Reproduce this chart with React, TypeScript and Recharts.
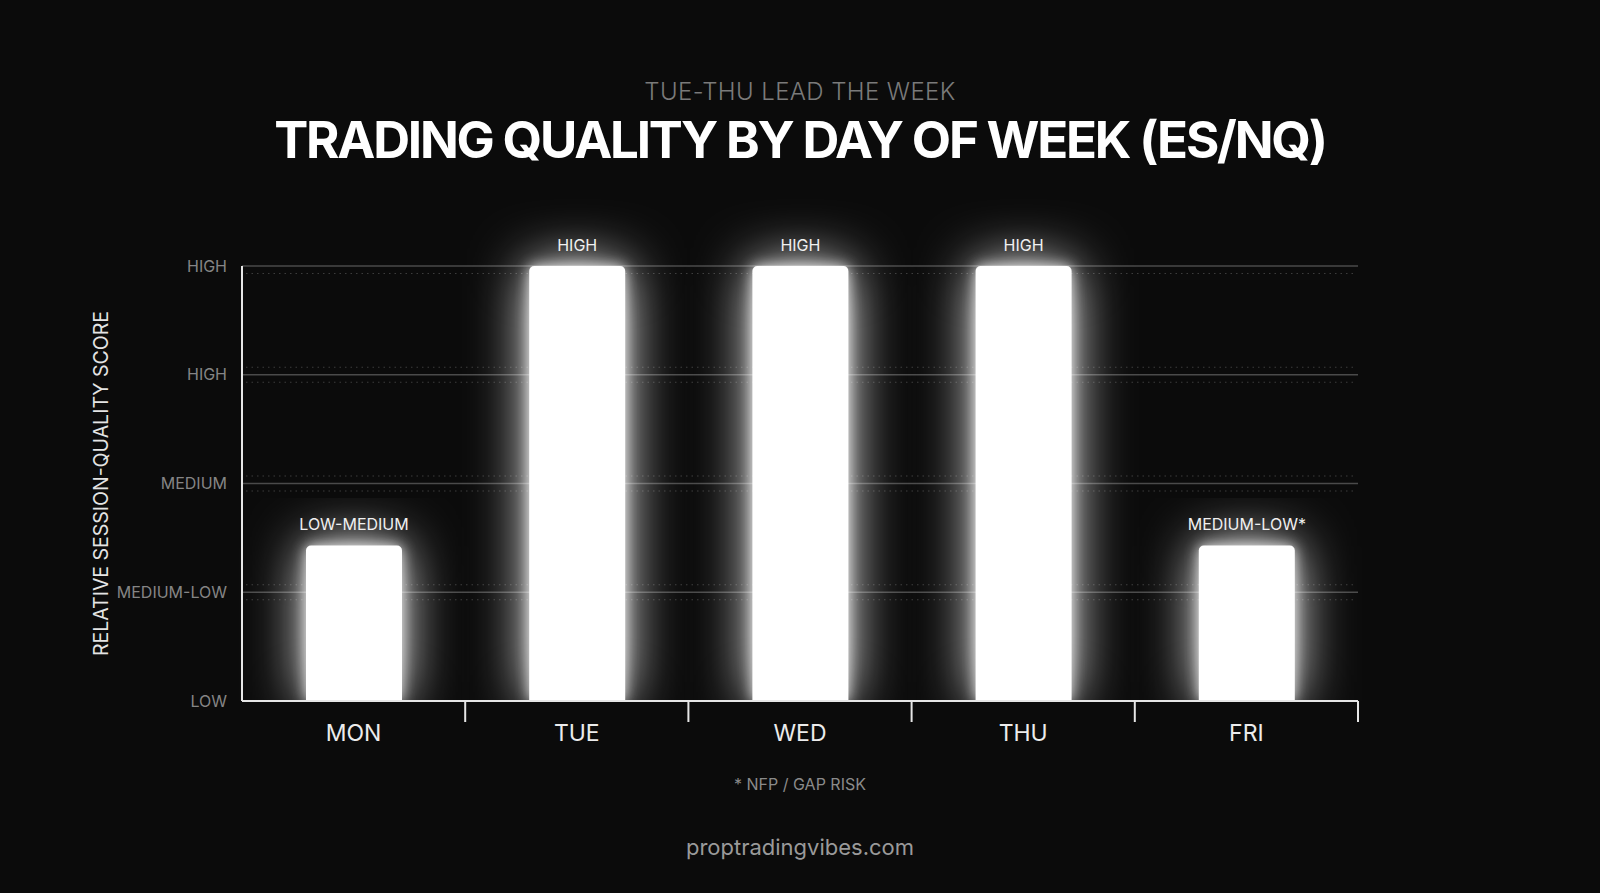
import React from "react";
import { BarChart, Bar, XAxis, YAxis, CartesianGrid, LabelList, Rectangle } from "recharts";

const DAYS = ["MON", "TUE", "WED", "THU", "FRI"];
const SCORES = [1.43, 4, 4, 4, 1.43];
const BAR_LABELS = ["LOW-MEDIUM", "HIGH", "HIGH", "HIGH", "MEDIUM-LOW*"];
const Y_TICKS = [0, 1, 2, 3, 4];
const Y_TICK_LABELS = ["LOW", "MEDIUM-LOW", "MEDIUM", "HIGH", "HIGH"];

const TITLE = "TRADING QUALITY BY DAY OF WEEK (ES/NQ)";
const SUBTITLE = "TUE-THU LEAD THE WEEK";
const Y_LABEL = "RELATIVE SESSION-QUALITY SCORE";
const FOOTNOTE = "* NFP / GAP RISK";
const SITE = "proptradingvibes.com";

const FONT = "Inter, 'Noto Sans', sans-serif";
const BG = "#0b0b0b";
const PLOT_TOP = 266;
const PLOT_BOTTOM = 701;

const data = DAYS.map((d, i) => ({ day: d, score: SCORES[i], label: BAR_LABELS[i] }));

function GridLine(props: any) {
  const { x1, x2, y1 } = props;
  const y = y1;
  const dotted = { stroke: "#3c3c3c", strokeWidth: 1, strokeDasharray: "1.5 4" };
  return (
    <g>
      <line x1={x1} x2={x2} y1={y} y2={y} stroke="#4a4a4a" strokeWidth={1.5} />
      {y > PLOT_TOP + 1 && y < PLOT_BOTTOM - 1 && <line x1={x1 + 4} x2={x2 - 4} y1={y - 7.5} y2={y - 7.5} {...dotted} />}
      {y < PLOT_BOTTOM - 1 && <line x1={x1 + 4} x2={x2 - 4} y1={y + 7.5} y2={y + 7.5} {...dotted} />}
    </g>
  );
}

function GlowBar(props: any) {
  const { x, y, width, height, index } = props;
  const id = `clip-bar-${index}`;
  return (
    <g>
      <defs>
        <clipPath id={id}>
          <rect x={x - 150} y={y - 150} width={width + 300} height={height + 150} />
        </clipPath>
      </defs>
      <g clipPath={`url(#${id})`}>
        <g filter="url(#glow)">
          <Rectangle x={x} y={y} width={width} height={height} radius={[5, 5, 0, 0]} fill="#ffffff" />
        </g>
      </g>
    </g>
  );
}

function DayTick(props: any) {
  const { x, y, payload } = props;
  const half = payload && payload.offset ? payload.offset : 111.6;
  return (
    <g>
      <line x1={x + half} x2={x + half} y1={y} y2={y + 21} stroke="#e6e6e6" strokeWidth={2} />
      <text x={x} y={y + 32} textAnchor="middle" dominantBaseline="central" fill="#ececec" fontSize={23} fontFamily={FONT}>
        {payload.value}
      </text>
    </g>
  );
}

export default function App() {
  return (
    <div style={{ position: "fixed", left: 0, top: 0, width: 1600, height: 893, background: BG, overflow: "hidden", fontFamily: FONT }}>
      <div style={{ position: "absolute", top: 78, width: 1600, textAlign: "center", color: "#7a7a7a", fontSize: 24, fontWeight: 300, lineHeight: "28px", letterSpacing: 0.4 }}>
        {SUBTITLE}
      </div>
      <div style={{ position: "absolute", top: 108, width: 1600, textAlign: "center", color: "#ffffff", fontSize: 51, fontWeight: 700, lineHeight: "64px", letterSpacing: -2.2 }}>
        {TITLE}
      </div>
      <BarChart width={1600} height={893} data={data} margin={{ top: PLOT_TOP, right: 242, bottom: 132, left: 0 }} barSize={96}>
        <defs>
          <filter id="glow" x="-100%" y="-30%" width="300%" height="160%">
            <feGaussianBlur in="SourceGraphic" stdDeviation="7" result="b1" />
            <feComponentTransfer in="b1" result="b1f">
              <feFuncA type="linear" slope="0.85" />
            </feComponentTransfer>
            <feGaussianBlur in="SourceGraphic" stdDeviation="28" result="b2" />
            <feComponentTransfer in="b2" result="b2f">
              <feFuncA type="linear" slope="1" />
            </feComponentTransfer>
            <feMerge>
              <feMergeNode in="b2f" />
              <feMergeNode in="b1f" />
              <feMergeNode in="SourceGraphic" />
            </feMerge>
          </filter>
        </defs>
        <CartesianGrid vertical={false} horizontal={(p: any) => <GridLine {...p} />} />
        <YAxis
          domain={[0, 4]}
          ticks={Y_TICKS}
          width={242}
          axisLine={{ stroke: "#e6e6e6", strokeWidth: 2 }}
          tickLine={false}
          tickSize={0}
          tickMargin={15}
          interval={0}
          tickFormatter={(v: number) => Y_TICK_LABELS[Y_TICKS.indexOf(v)] ?? ""}
          tick={{ fill: "#858585", fontSize: 16, fontFamily: FONT }}
          label={{
            value: Y_LABEL,
            content: ({ viewBox }: any) => {
              const cx = (viewBox?.x ?? 0) + 101;
              const cy = (viewBox?.y ?? PLOT_TOP) + (viewBox?.height ?? 435) / 2;
              return (
                <text x={cx} y={cy} transform={`rotate(-90 ${cx} ${cy})`} textAnchor="middle" dominantBaseline="central" fill="#e4e4e4" fontSize={19.5} fontFamily={FONT}>
                  {Y_LABEL}
                </text>
              );
            },
          }}
        />
        <XAxis
          dataKey="day"
          height={60}
          axisLine={{ stroke: "#e6e6e6", strokeWidth: 2 }}
          tickLine={false}
          tickSize={0}
          tickMargin={0}
          interval={0}
          tick={(p: any) => <DayTick {...p} />}
        />
        <Bar dataKey="score" isAnimationActive={false} shape={(p: any) => <GlowBar {...p} />}>
          <LabelList dataKey="label" position="top" offset={15} fill="#f0f0f0" fontSize={16} fontFamily={FONT} />
        </Bar>
      </BarChart>
      <div style={{ position: "absolute", top: 774, width: 1600, textAlign: "center", color: "#8a8a8a", fontSize: 16, lineHeight: "20px" }}>
        {FOOTNOTE}
      </div>
      <div style={{ position: "absolute", top: 834, width: 1600, textAlign: "center", color: "#9a9a9a", fontSize: 22, lineHeight: "26px" }}>
        {SITE}
      </div>
    </div>
  );
}
